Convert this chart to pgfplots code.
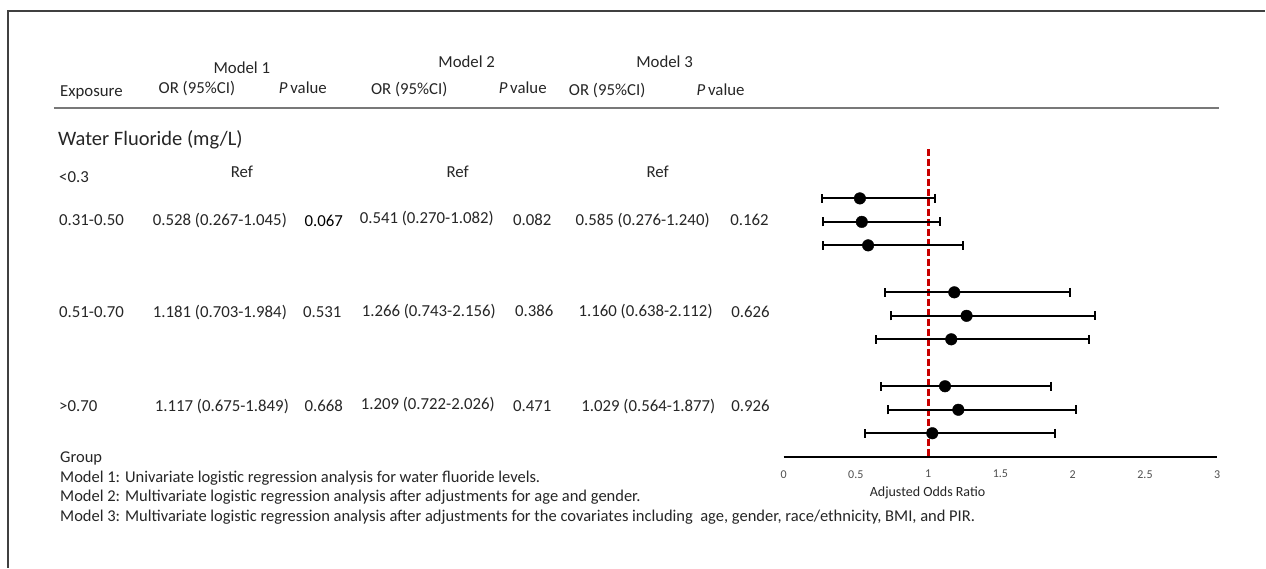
\documentclass[border=0pt]{standalone}
\usepackage{pgfplots}
\pgfplotsset{compat=1.18}
\usepackage{pgfplotstable}
\usepackage{fontspec}
\setmainfont{Carlito}
\definecolor{txt}{RGB}{38,38,38}
\definecolor{dred}{RGB}{200,0,0}
\definecolor{rulegray}{RGB}{120,120,120}
\definecolor{ticktxt}{RGB}{80,80,80}

% y = row position (0 = top row), or = odds ratio, lo/hi = 95% CI
\pgfplotstableread{
y   or     lo     hi
0   0.528  0.267  1.045
-1  0.541  0.270  1.082
-2  0.585  0.276  1.240
-4  1.181  0.703  1.984
-5  1.266  0.743  2.156
-6  1.160  0.638  2.112
-8  1.117  0.675  1.849
-9  1.209  0.722  2.026
-10 1.029  0.564  1.877
}\ortable

\begin{document}
\begin{tikzpicture}[x=1pt,y=-1pt,
  tx/.style={font=\fontsize{16.8}{20}\selectfont, text=txt, inner sep=0pt, anchor=base},
  txl/.style={tx, anchor=base west},
  fn/.style={txl, font=\fontsize{16.5}{20}\selectfont}]
\fill[white] (0,0) rectangle (1266,568);
\draw[line width=1.5pt, black!75] (8,568) -- (8,11) -- (1266,11);
\draw[line width=2pt, rulegray] (54,108) -- (1220,108);

% header
\node[txl] at (60,97) {Exposure};
\node[tx] at (242,74) {Model 1};
\node[tx] at (197,94) {OR (95\%CI)};
\node[tx] at (303,94) {\textit{P}\,value};
\node[tx] at (467,68) {Model 2};
\node[tx] at (409.5,95) {OR (95\%CI)};
\node[tx] at (523,94) {\textit{P}\,value};
\node[tx] at (665,68) {Model 3};
\node[tx] at (607.5,96) {OR (95\%CI)};
\node[tx] at (721,96) {\textit{P}\,value};

\node[txl, font=\fontsize{20.5}{24}\selectfont] at (58,146) {Water Fluoride (mg/L)};
\node[txl] at (59,183) {<0.3};
\node[tx] at (242,178) {Ref};
\node[tx] at (458,178) {Ref};
\node[tx] at (658,178) {Ref};

\node[txl] at (59,226) {0.31-0.50};
\node[tx] at (220,226) {0.528 (0.267-1.045)};
\node[tx, text=black] at (324,227) {0.067};
\node[tx] at (427,224) {0.541 (0.270-1.082)};
\node[tx] at (532.5,226) {0.082};
\node[tx] at (643,226) {0.585 (0.276-1.240)};
\node[tx] at (750,226) {0.162};

\node[txl] at (59,317.5) {0.51-0.70};
\node[tx] at (220,317.5) {1.181 (0.703-1.984)};
\node[tx] at (322.5,317.5) {0.531};
\node[tx] at (429,316.7) {1.266 (0.743-2.156)};
\node[tx] at (534.5,317) {0.386};
\node[tx] at (646,317) {1.160 (0.638-2.112)};
\node[tx] at (751,318) {0.626};

\node[txl] at (59,411.7) {>0.70};
\node[tx] at (222,411.7) {1.117 (0.675-1.849)};
\node[tx] at (324,411.7) {0.668};
\node[tx] at (428,410) {1.209 (0.722-2.026)};
\node[tx] at (532.5,411.7) {0.471};
\node[tx] at (648.7,411.7) {1.029 (0.564-1.877)};
\node[tx] at (751,411.7) {0.926};

% footnotes
\node[fn] at (60,463) {Group};
\node[fn] at (60,483) {Model 1: Univariate logistic regression analysis for water fluoride levels.};
\node[fn] at (60,502) {Model 2: Multivariate logistic regression analysis after adjustments for age and gender.};
\node[fn] at (60,522) {Model 3: Multivariate logistic regression analysis after adjustments for the covariates including~ age, gender, race/ethnicity, BMI, and PIR.};

\begin{axis}[
  at={(784pt,-457pt)}, anchor=south west,
  scale only axis, width=434pt, height=307.85pt,
  xmin=0, xmax=3, ymin=-11, ymax=2.1,
  clip=false,
  axis x line=bottom, axis y line=none,
  x axis line style={-, line width=2pt, black},
  xtick={0,0.5,1,1.5,2,2.5,3},
  major tick length=0pt,
  /pgf/number format/assume math mode=true,
  xticklabel style={font=\fontsize{12}{14}\selectfont, text=ticktxt, yshift=-10pt},
  xlabel={Adjusted Odds Ratio},
  xlabel style={font=\fontsize{14}{16}\selectfont, text=txt, at={(axis description cs:0.332,0)}, anchor=center, yshift=-36pt},
]
\addplot[dred, line width=3pt, dash pattern=on 7pt off 3pt] coordinates {(1,2.1) (1,-11)};
\addplot[black, only marks, mark=*, mark size=5.8pt,
  error bars/.cd, x dir=both, x explicit,
  error bar style={line width=2pt, black},
  error mark options={rotate=90, line width=2pt, mark size=4.5pt, black}]
  table[x=or, y=y, x error plus expr=\thisrow{hi}-\thisrow{or}, x error minus expr=\thisrow{or}-\thisrow{lo}] {\ortable};
\end{axis}
\end{tikzpicture}
\end{document}
